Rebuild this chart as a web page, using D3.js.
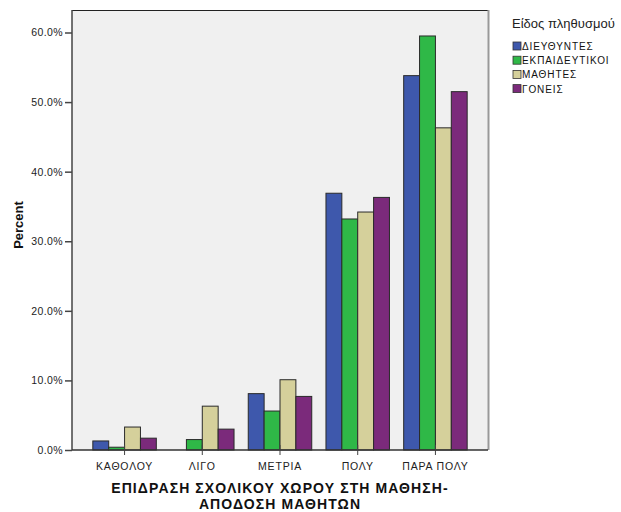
<!DOCTYPE html>
<html>
<head>
<meta charset="utf-8">
<script src="https://cdn.jsdelivr.net/npm/d3@7"></script>
<style>
  body { margin: 0; background: #fff; }
  svg { display: block; font-family: "Liberation Sans", Arial, sans-serif; }
</style>
</head>
<body>
<svg id="chart" width="621" height="512"></svg>
<script>
const categories = ["ΚΑΘΟΛΟΥ", "ΛΙΓΟ", "ΜΕΤΡΙΑ", "ΠΟΛΥ", "ΠΑΡΑ ΠΟΛΥ"];
const seriesNames = ["ΔΙΕΥΘΥΝΤΕΣ", "ΕΚΠΑΙΔΕΥΤΙΚΟΙ", "ΜΑΘΗΤΕΣ", "ΓΟΝΕΙΣ"];
const seriesColors = ["#3e58ac", "#2fb847", "#d5d09b", "#7b2a7b"];
const valuesDieythyntes = [1.3, 0.0, 8.1, 36.9, 53.8];
const valuesEkpaideytikoi = [0.4, 1.5, 5.6, 33.2, 59.5];
const valuesMathites = [3.3, 6.3, 10.1, 34.2, 46.3];
const valuesGoneis = [1.7, 3.0, 7.7, 36.3, 51.5];
const yTicks = [0, 10, 20, 30, 40, 50, 60];
const legendTitle = "Είδος πληθυσμού";
const yTitle = "Percent";
const xTitleLines = ["ΕΠΙΔΡΑΣΗ ΣΧΟΛΙΚΟΥ ΧΩΡΟΥ ΣΤΗ ΜΑΘΗΣΗ-", "ΑΠΟΔΟΣΗ ΜΑΘΗΤΩΝ"];

const allSeries = [valuesDieythyntes, valuesEkpaideytikoi, valuesMathites, valuesGoneis];

const svg = d3.select("#chart");
const pLeft = 72, pRight = 488, pTop = 10, pBottom = 450;

const x = d3.scaleBand().domain(categories).range([pLeft, pRight]).paddingInner(0.183).paddingOuter(0.268);
const xs = d3.scaleBand().domain(d3.range(seriesNames.length)).range([0, x.bandwidth()]);
const y = d3.scaleLinear().domain([0, 60]).range([pBottom, 32.5]);

// plot background
svg.append("rect").attr("x", pLeft).attr("y", pTop).attr("width", pRight - pLeft).attr("height", pBottom - pTop)
  .attr("fill", "#f0f0f0");
// frame: top black, right gray shadow
svg.append("line").attr("x1", pLeft).attr("x2", pRight).attr("y1", pTop + 0.5).attr("y2", pTop + 0.5)
  .attr("stroke", "#222").attr("stroke-width", 1);
svg.append("line").attr("x1", pRight + 0.5).attr("x2", pRight + 0.5).attr("y1", pTop).attr("y2", pBottom)
  .attr("stroke", "#999").attr("stroke-width", 2);

// bars
const g = svg.append("g");
categories.forEach((c, ci) => {
  allSeries.forEach((vals, si) => {
    const v = vals[ci];
    g.append("rect")
      .attr("x", x(c) + xs(si))
      .attr("y", y(v))
      .attr("width", xs.bandwidth())
      .attr("height", Math.max(0, y(0) - y(v)))
      .attr("fill", seriesColors[si])
      .attr("stroke", "#2a2a2a")
      .attr("stroke-width", 1);
  });
});

// y axis
const yAxis = d3.axisLeft(y).tickValues(yTicks).tickFormat(d => d.toFixed(1) + "%").tickSize(7).tickPadding(2);
const yg = svg.append("g").attr("transform", `translate(${pLeft},0)`).call(yAxis);
yg.select(".domain").attr("stroke", "#444").attr("stroke-width", 1.5).attr("d", `M0,${pTop}V${pBottom}`);
yg.selectAll(".tick line").attr("stroke", "#444").attr("stroke-width", 1.5);
yg.selectAll(".tick text").attr("font-size", "10.5px").attr("letter-spacing", "0.4px").attr("fill", "#222");

// x axis
const xAxis = d3.axisBottom(x).tickSize(8).tickPadding(3);
const xg = svg.append("g").attr("transform", `translate(0,${pBottom})`).call(xAxis);
xg.select(".domain").attr("stroke", "#333").attr("stroke-width", 1.5).attr("d", `M${pLeft},0H${pRight}`);
xg.selectAll(".tick line").attr("stroke", "#444").attr("stroke-width", 1).attr("y1", -5).attr("y2", 5);
xg.selectAll(".tick text").attr("font-size", "10.5px").attr("letter-spacing", "0.8px").attr("fill", "#222").attr("dy", "0.9em");

// axis titles
svg.append("text").attr("transform", `translate(23,225) rotate(-90)`).attr("text-anchor", "middle")
  .attr("font-size", "13px").attr("font-weight", "bold").attr("fill", "#111").text(yTitle);
xTitleLines.forEach((t, i) => {
  svg.append("text").attr("x", 280).attr("y", 492.5 + i * 16.5).attr("text-anchor", "middle")
    .attr("font-size", "14px").attr("font-weight", "bold").attr("letter-spacing", "1.1px")
    .attr("fill", "#111").text(t);
});

// legend
svg.append("text").attr("x", 512).attr("y", 28).attr("font-size", "13px").attr("fill", "#222").text(legendTitle);
const lg = svg.append("g");
seriesNames.forEach((n, i) => {
  const yy = 42 + i * 14.2;
  lg.append("rect").attr("x", 513).attr("y", yy).attr("width", 8).attr("height", 8)
    .attr("fill", seriesColors[i]).attr("stroke", "#333").attr("stroke-width", 0.8);
  lg.append("text").attr("x", 522).attr("y", yy + 8).attr("font-size", "10px").attr("letter-spacing", "0.9px")
    .attr("fill", "#111").text(n);
});
</script>
</body>
</html>
